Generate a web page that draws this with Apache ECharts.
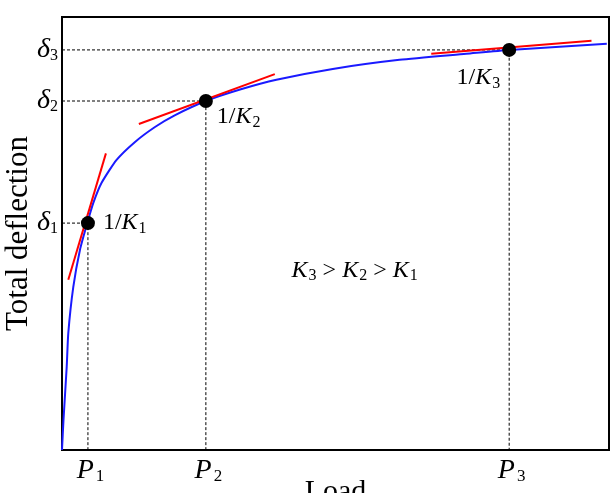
<!DOCTYPE html>
<html>
<head>
<meta charset="utf-8">
<script src="https://cdn.jsdelivr.net/npm/echarts@6/dist/echarts.min.js"></script>
<style>
  html, body { margin: 0; padding: 0; background: #fff; }
  #main { width: 612px; height: 493px; }
</style>
</head>
<body>
<div id="main"></div>
<script>
// load–deflection curve with tangent stiffness at three loads

var loadVals = [0, 0.27, 0.86, 1.15, 2.06, 3.28, 4.62, 5.71, 7.24, 9.98, 13.3, 17.0, 20.6, 26.3, 32.7, 39.2, 49.5, 61.7, 73.9, 81.75, 99.6]
var deflVals = [0, 6.9, 19.2, 27.0, 37.6, 46.2, 52.4, 57.0, 61.7, 67.0, 71.1, 74.6, 77.3, 80.6, 83.3, 85.5, 88.0, 90.1, 91.5, 92.4, 93.8]

var pLoads = [4.74, 26.3, 81.75]       // P1, P2, P3
var pDefls = [52.4, 80.6, 92.4]        // δ1, δ2, δ3
var pLoadLabels = ['1', '2', '3']
var stiffLabels = ['1', '2', '3']

// tangent segments  [x0, y0, x1, y1]
var tangents = [
  [1.15, 39.3, 8.03, 68.5],
  [14.05, 75.3, 38.9, 86.8],
  [67.5, 91.5, 96.8, 94.5]
]

var noteAt = [53.5, 41.5]

var FONT = '"Liberation Serif", "DejaVu Serif", serif'

var chart = echarts.init(document.getElementById('main'))

function nearestIdx(arr, v) {
  var best = 0
  for (var i = 1; i < arr.length; i++) {
    if (Math.abs(arr[i] - v) < Math.abs(arr[best] - v)) best = i
  }
  return best
}

var curve = loadVals.map(function (x, i) { return [x, deflVals[i]] })

var series = [{
  type: 'line',
  data: curve,
  smooth: 0.2,
  showSymbol: false,
  lineStyle: { color: '#1a1aff', width: 2 },
  z: 3
}]

// dotted guides
pLoads.forEach(function (p, i) {
  series.push({
    type: 'line',
    data: [[0, pDefls[i]], [p, pDefls[i]], [p, 0]],
    showSymbol: false,
    lineStyle: { color: '#000', width: 1, type: [3, 2] },
    z: 2
  })
})

tangents.forEach(function (t) {
  series.push({
    type: 'line',
    data: [[t[0], t[1]], [t[2], t[3]]],
    showSymbol: false,
    lineStyle: { color: '#ff0000', width: 2 },
    z: 4
  })
})

var labelPos = [
  { position: 'right', distance: 8, offset: [0, 0] },
  { position: 'right', distance: 4, offset: [0, 16] },
  { position: 'left', distance: 2, offset: [0, 28] }
]

var kRich = {
  n: { fontFamily: FONT, fontSize: 24, color: '#000' },
  k: { fontFamily: FONT, fontSize: 24, fontStyle: 'italic', color: '#000' },
  s: { fontFamily: FONT, fontSize: 16, color: '#000', verticalAlign: 'bottom', padding: [11, 0, 0, 1] }
}

series.push({
  type: 'scatter',
  symbolSize: 14,
  itemStyle: { color: '#000', opacity: 1 },
  z: 5,
  data: pLoads.map(function (p, i) {
    return {
      value: [p, pDefls[i]],
      label: {
        show: true,
        opacity: 1,
        position: labelPos[i].position,
        distance: labelPos[i].distance,
        offset: labelPos[i].offset,
        formatter: '{n|1/}{k|K}{s|' + stiffLabels[i] + '}',
        rich: kRich
      }
    }
  })
})

// K3 > K2 > K1 note
series.push({
  type: 'scatter',
  symbolSize: 0,
  silent: true,
  itemStyle: { opacity: 1 },
  data: [noteAt],
  label: {
    show: true,
    opacity: 1,
    position: 'inside',
    formatter: '{k|K}{s|3}{n| > }{k|K}{s|2}{n| > }{k|K}{s|1}',
    rich: kRich
  }
})

var option = {
  animation: false,
  backgroundColor: '#fff',
  grid: {
    left: 62, right: 3, top: 17, bottom: 43,
    containLabel: false,
    outerBoundsMode: 'none',
    show: true, borderColor: '#000', borderWidth: 2
  },
  xAxis: {
    type: 'value',
    min: 0, max: 100,
    name: 'Load',
    nameLocation: 'middle',
    nameGap: 27,
    nameMoveOverlap: false,
    nameTextStyle: { fontFamily: FONT, fontSize: 30, color: '#000' },
    axisLine: { show: false },
    axisTick: { show: false },
    splitLine: { show: false },
    axisLabel: {
      customValues: pLoads,
      margin: 6,
      formatter: function (v) {
        return '{p|P}{s|' + pLoadLabels[nearestIdx(pLoads, v)] + '}'
      },
      rich: {
        p: { fontFamily: FONT, fontSize: 28, fontStyle: 'italic', color: '#000', padding: [0, 0, 0, 5] },
        s: { fontFamily: FONT, fontSize: 17, color: '#000', verticalAlign: 'bottom', padding: [12, 0, 0, 2] }
      }
    }
  },
  yAxis: {
    type: 'value',
    min: 0, max: 100,
    name: 'Total deflection',
    nameLocation: 'middle',
    nameGap: 28,
    nameMoveOverlap: false,
    nameTextStyle: { fontFamily: FONT, fontSize: 31, color: '#000' },
    axisLine: { show: false },
    axisTick: { show: false },
    splitLine: { show: false },
    axisLabel: {
      customValues: pDefls,
      margin: 4,
      formatter: function (v) {
        return '{d|δ}{s|' + pLoadLabels[nearestIdx(pDefls, v)] + '}'
      },
      rich: {
        d: { fontFamily: FONT, fontSize: 28, fontStyle: 'italic', color: '#000' },
        s: { fontFamily: FONT, fontSize: 16, color: '#000', verticalAlign: 'bottom', padding: [12, 0, 0, 0] }
      }
    }
  },
  series: series
}

chart.setOption(option)
</script>
</body>
</html>
